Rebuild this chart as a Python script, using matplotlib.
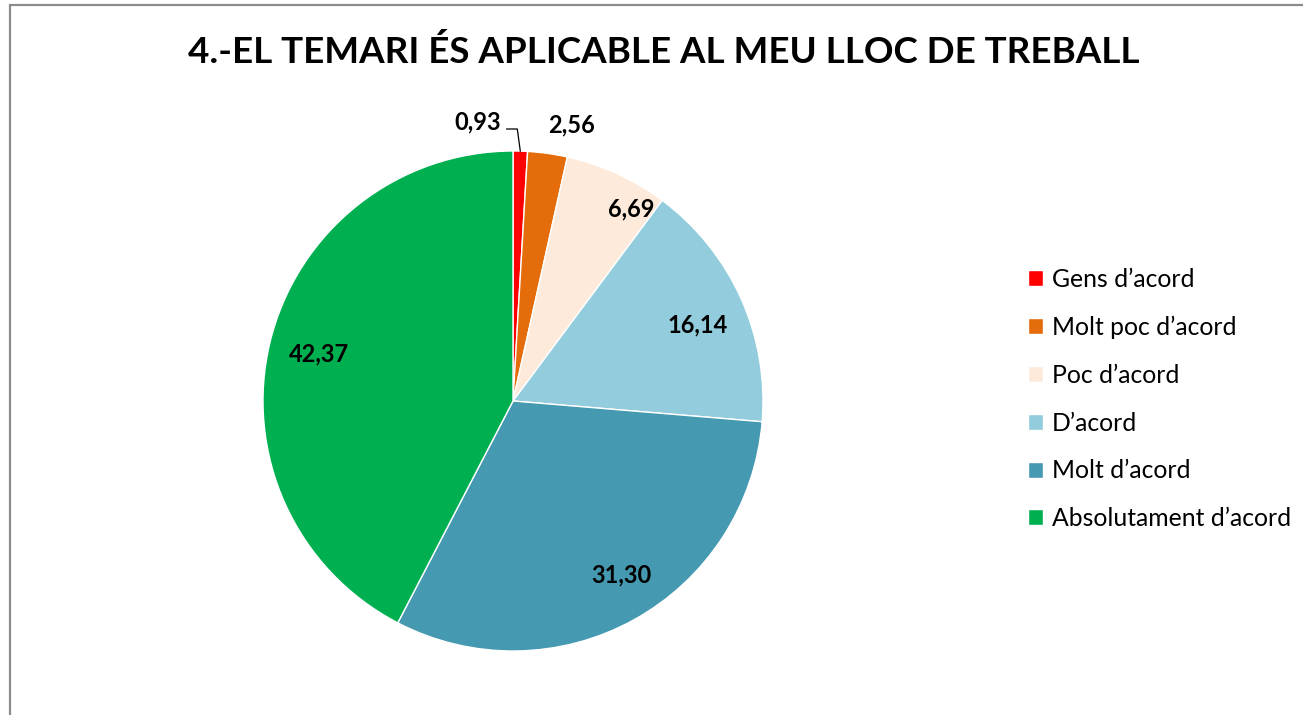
import matplotlib.pyplot as plt
import numpy as np
from matplotlib.patches import Rectangle

# Data
categories = ["Gens d\u2019acord", "Molt poc d\u2019acord", "Poc d\u2019acord",
              "D\u2019acord", "Molt d\u2019acord", "Absolutament d\u2019acord"]
values = [0.93, 2.56, 6.69, 16.14, 31.30, 42.37]
value_labels = ["0,93", "2,56", "6,69", "16,14", "31,30", "42,37"]
colors = ["#FF0000", "#E46C0A", "#FDEADA", "#93CDDD", "#4599B1", "#00B050"]

plt.rcParams["font.family"] = ["Lato", "DejaVu Sans"]

W, H = 1303, 715
fig = plt.figure(figsize=(W / 100, H / 100), dpi=100)

# grey frame (right/bottom edges run off the image)
fig.patches.append(Rectangle((9.5 / W, -0.1), 2.0, 1 - 5 / H + 0.1,
                             transform=fig.transFigure, fill=False,
                             edgecolor="#8C8C8C", linewidth=1.6))

cx, cy, r = 513, 401, 250
ax = fig.add_axes([(cx - r) / W, (H - cy - r) / H, 2 * r / W, 2 * r / H])
wedges, _ = ax.pie(values, colors=colors, startangle=90, counterclock=False,
                   wedgeprops=dict(edgecolor="white", linewidth=1))
ax.set_xlim(-1, 1)
ax.set_ylim(-1, 1)
ax.set_aspect("equal")

# label positions: distance from centre (fraction of radius), angle tweak
dist = [None, 1.13, 0.90, 0.80, 0.82, 0.80]
tweak = [0, -4, -7, -2, 3, 0]
lbl_kw = dict(fontsize=17, fontweight="bold", color="black",
              ha="center", va="center")
for i, w in enumerate(wedges):
    mid = np.deg2rad((w.theta1 + w.theta2) / 2 + tweak[i])
    if dist[i] is None:
        # outside label with an elbow leader line
        tip = np.array([np.cos(mid), np.sin(mid)])
        ax.text(-0.14, 1.116, value_labels[i], **lbl_kw)
        ax.plot([-0.025, tip[0] - 0.012, tip[0]], [1.088, 1.088, tip[1]],
                color="black", lw=0.9, clip_on=False)
    else:
        ax.text(dist[i] * np.cos(mid), dist[i] * np.sin(mid), value_labels[i],
                **lbl_kw)

fig.text(664 / W, 1 - 52 / H, "4.-EL TEMARI \u00c9S APLICABLE AL MEU LLOC DE TREBALL",
         ha="center", va="center", fontsize=26.5, fontweight="bold")

fig.legend(wedges, categories, loc="center left",
           bbox_to_anchor=(1018 / W, 1 - 399 / H), frameon=False,
           fontsize=17.8, handlelength=0.62, handleheight=0.62,
           handletextpad=0.35, labelspacing=1.0, borderaxespad=0)

fig.savefig("out.png", dpi=100)
